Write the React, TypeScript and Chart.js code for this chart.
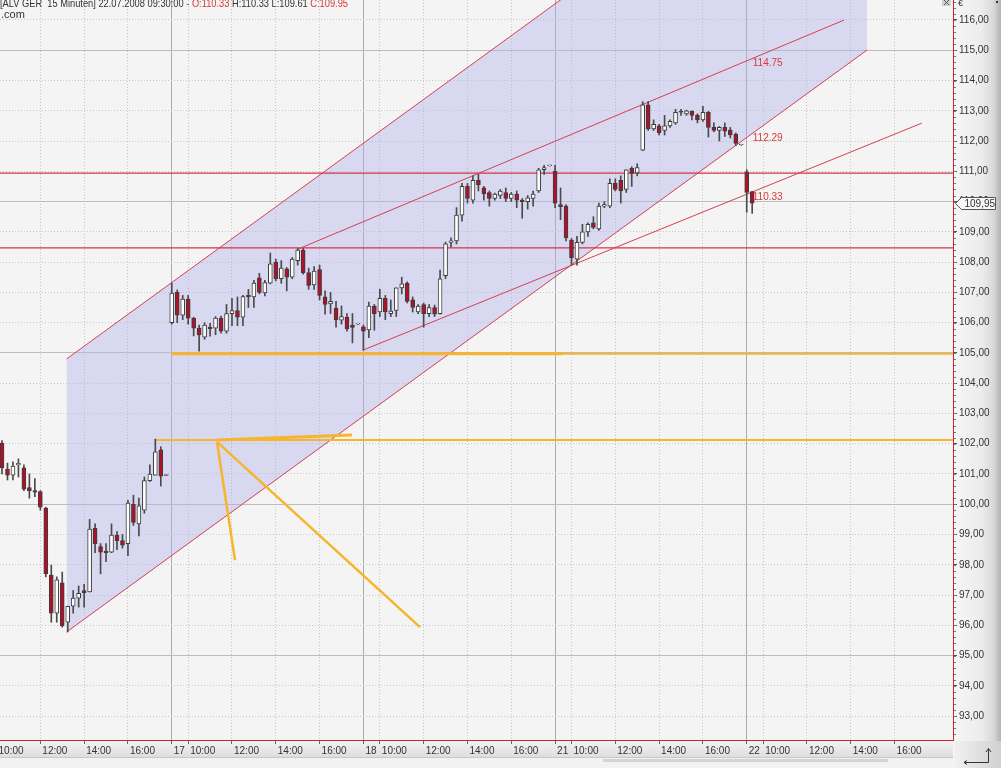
import React, { useEffect, useRef } from 'react';
import { Chart, registerables } from 'chart.js';

Chart.register(...registerables);

// ---- time axis ----
const tradingDays = ['16', '17', '18', '21', '22'];
const sessionTimes = [
  '09:15', '09:30', '09:45', '10:00', '10:15', '10:30', '10:45', '11:00', '11:15', '11:30', '11:45',
  '12:00', '12:15', '12:30', '12:45', '13:00', '13:15', '13:30', '13:45', '14:00', '14:15', '14:30',
  '14:45', '15:00', '15:15', '15:30', '15:45', '16:00', '16:15', '16:30', '16:45', '17:00', '17:15',
  '17:30', '17:45',
];
const axisTimes = ['10:00', '12:00', '14:00', '16:00'];
const categories: string[] = [];
tradingDays.forEach((d) => sessionTimes.forEach((t) => categories.push(d + ' ' + t)));
const firstBar = categories.indexOf('16 10:15');

// ---- 15 minute candles (ALV GER) ----
const opens = [
  102.02, 101.16, 100.96, 101.30, 101.20, 100.55, 100.45, 100.42, 99.87, 97.66, 96.40, 97.40, 96.10, 96.63, 96.90, 97.15, 97.10, 99.20, 98.60, 98.45, 98.42, 98.98, 98.80, 98.70, 100.00, 99.35, 99.80, 100.78, 100.96, 101.80, 100.95,
  106.00, 107.00, 106.25, 106.78, 106.15, 105.82, 105.52, 105.85, 105.82, 106.15, 105.72, 106.30, 106.40, 106.18, 106.90, 106.85, 107.48, 106.98, 107.30, 108.00, 107.45, 107.78, 107.50, 108.05, 108.40, 107.65, 107.25, 107.75, 106.85, 106.62, 106.48, 106.08, 106.18, 105.92, 105.95,
  105.86, 105.76, 106.55, 106.35, 106.80, 106.30, 106.40, 107.15, 107.30, 106.75, 106.35, 106.60, 106.30, 106.50, 106.30, 107.55, 108.65, 108.70, 109.55, 110.50, 110.05, 110.70, 110.45, 110.30, 110.10, 110.20, 110.30, 110.10, 110.25, 110.05, 110.00, 110.10, 110.35, 111.05, 111.18,
  111.00, 109.90, 109.85, 108.73, 108.10, 108.65, 109.00, 109.30, 109.10, 109.85, 109.85, 110.60, 110.70, 110.40, 111.10, 110.95, 111.70, 113.20, 112.40, 112.50, 112.35, 112.50, 112.60, 112.98, 112.90, 112.98, 112.85, 112.70, 112.95, 112.45, 112.35, 112.45, 112.36, 112.22, 111.87,
  110.98, 110.33,
];
const highs = [
  102.10, 101.36, 101.40, 101.50, 101.30, 101.00, 100.85, 100.45, 99.90, 97.99, 97.60, 97.76, 96.63, 97.15, 97.30, 97.35, 99.50, 99.35, 98.70, 98.70, 99.35, 99.10, 99.00, 100.13, 100.30, 100.20, 100.90, 101.30, 102.15, 101.90, 100.96,
  107.30, 107.08, 106.90, 106.90, 106.18, 105.92, 106.00, 105.98, 106.20, 106.22, 106.60, 106.80, 106.85, 106.90, 107.10, 107.40, 107.63, 107.40, 108.30, 108.10, 108.05, 107.82, 108.15, 108.45, 108.45, 107.80, 107.85, 107.90, 107.05, 107.00, 106.70, 106.55, 106.30, 106.30, 105.97,
  105.92, 106.68, 106.60, 107.10, 106.90, 106.75, 107.15, 107.50, 107.35, 106.85, 106.60, 106.65, 106.60, 106.58, 107.74, 108.66, 108.80, 109.80, 110.60, 110.60, 110.85, 110.90, 110.50, 110.35, 110.28, 110.40, 110.45, 110.30, 110.35, 110.10, 110.20, 110.35, 111.10, 111.20, 111.19,
  111.20, 110.45, 109.90, 108.78, 108.85, 109.25, 109.30, 109.50, 109.95, 110.00, 110.75, 110.75, 110.85, 111.05, 111.15, 111.25, 113.30, 113.30, 112.70, 112.55, 112.85, 112.70, 113.05, 113.05, 113.02, 113.00, 112.90, 113.15, 112.98, 112.60, 112.48, 112.60, 112.45, 112.27, 111.88,
  111.05, 110.33,
];
const lows = [
  101.00, 100.80, 100.80, 100.90, 100.45, 100.20, 100.25, 99.80, 97.60, 96.10, 96.10, 95.94, 95.78, 96.40, 96.60, 96.60, 97.10, 98.40, 97.70, 98.10, 98.40, 98.50, 98.55, 98.30, 99.30, 98.95, 99.70, 100.75, 100.96, 100.60, 100.94,
  105.95, 106.00, 106.10, 105.95, 105.56, 105.06, 105.45, 105.55, 105.60, 105.65, 105.65, 105.90, 105.90, 105.90, 106.50, 106.50, 106.95, 106.88, 107.28, 107.38, 107.30, 107.05, 107.45, 107.90, 107.60, 107.10, 107.10, 106.75, 106.28, 106.30, 105.85, 105.95, 105.72, 105.33, 105.94,
  105.09, 105.50, 105.75, 106.20, 106.10, 106.20, 106.20, 106.95, 106.65, 106.35, 106.30, 105.85, 106.20, 106.20, 106.28, 107.45, 108.50, 108.60, 109.35, 109.95, 109.95, 110.35, 110.05, 109.85, 110.05, 110.10, 110.00, 110.00, 109.80, 109.45, 109.75, 109.85, 110.30, 110.90, 111.17,
  109.80, 109.40, 108.70, 107.90, 107.90, 108.60, 108.85, 109.10, 109.05, 109.80, 109.80, 110.35, 109.95, 110.30, 110.50, 110.85, 111.68, 112.35, 112.35, 112.20, 112.20, 112.45, 112.55, 112.85, 112.85, 112.70, 112.60, 112.65, 112.13, 112.30, 112.00, 112.15, 112.10, 111.85, 111.86,
  109.65, 109.61,
];
const closes = [
  101.20, 100.96, 101.26, 101.35, 100.50, 100.45, 100.40, 99.90, 97.70, 96.40, 97.50, 95.98, 96.63, 96.90, 97.06, 97.08, 99.18, 98.70, 98.42, 98.40, 98.98, 98.80, 98.65, 100.04, 99.40, 99.95, 100.78, 101.00, 101.73, 100.93, 100.95,
  106.98, 106.25, 106.78, 106.15, 105.82, 105.59, 105.92, 105.80, 106.15, 105.72, 106.30, 106.40, 106.18, 106.86, 106.85, 107.31, 107.00, 107.32, 107.94, 107.45, 107.80, 107.50, 108.10, 108.40, 107.65, 107.23, 107.70, 106.90, 106.60, 106.70, 106.09, 106.20, 105.79, 105.84, 105.96,
  105.72, 106.55, 106.30, 106.80, 106.35, 106.38, 107.15, 107.28, 106.70, 106.50, 106.55, 106.30, 106.50, 106.28, 107.45, 108.60, 108.70, 109.55, 110.50, 110.10, 110.70, 110.55, 110.25, 110.10, 110.25, 110.35, 110.10, 110.25, 110.05, 110.00, 110.12, 110.25, 111.05, 111.12, 111.18,
  109.95, 109.83, 108.80, 108.15, 108.65, 109.00, 109.25, 109.15, 109.85, 109.90, 110.60, 110.40, 110.35, 111.05, 110.93, 111.12, 113.20, 112.40, 112.55, 112.28, 112.50, 112.65, 112.95, 112.95, 113.00, 112.85, 112.70, 112.95, 112.45, 112.35, 112.45, 112.33, 112.20, 111.92, 111.87,
  110.30, 109.95,
];

// ---- drawn studies (bar position, price) ----
const channelBars = [15.8, 162];
const channelLower = [95.78, 115.01];
const channelUpper = [104.8, 124.03];
const resistanceBars = [58.05, 157.8];
const resistanceValues = [108.43, 116.0];
const supportBars = [69.9, 171.95];
const supportValues = [105.09, 112.59];
const redLevels = [110.94, 108.47];
const orangeLevelStarts = [35, 31.95];
const orangeLevels = [104.97, 102.12];
const orangeBoldBars = [[35, 106.4], [43.26, 67.9]];
const orangeBoldValues = [[104.97, 104.97], [102.12, 102.29]];
const fanBars = [[43.26, 46.55], [43.26, 80.33]];
const fanValues = [[102.06, 98.15], [102.06, 95.94]];
const lineLabelTexts = ['114.75', '112.29', '110.33'];
const lineLabelBars = [141.1, 141.1, 141.1];
const lineLabelValues = [114.58, 112.1, 110.15];

// ---- view window ----
const xMin = firstBar - 0.365;
const xMax = firstBar + 173.67;
const yMin = 92.21;
const yMax = 116.66;

const fmt = (v: number) => v.toFixed(2).replace('.', ',');
const FONT = '"Liberation Sans", Arial, sans-serif';

const tickValues: number[] = [];
const tickText: Record<number, string> = {};
categories.forEach((c, k) => {
  const [day, time] = c.split(' ');
  if (time === sessionTimes[0]) {
    tickValues.push(k);
    tickText[k] = day;
  } else if (axisTimes.includes(time)) {
    tickValues.push(k);
    tickText[k] = time;
  }
});
const isDayTick = (ctx: any) =>
  ctx && ctx.tick && categories[ctx.tick.value] && categories[ctx.tick.value].endsWith(' ' + sessionTimes[0]);
const isMajorY = (ctx: any) => ctx && ctx.tick && Math.round(ctx.tick.value) % 5 === 0;

const seg = (x1: number, y1: number, x2: number, y2: number) => [
  { x: x1, y: y1 },
  { x: x2, y: y2 },
];

const decor = {
  id: 'decor',
  beforeDraw(chart: any) {
    const { ctx, chartArea: a, width, height } = chart;
    ctx.save();
    ctx.fillStyle = '#f4f4f4';
    ctx.fillRect(a.left, a.top, a.right - a.left, a.bottom - a.top);
    const g = ctx.createLinearGradient(a.right, 0, width, 0);
    g.addColorStop(0, '#f6f6f6');
    g.addColorStop(0.6, '#ececec');
    g.addColorStop(0.85, '#d8d8d8');
    g.addColorStop(1, '#b2b2b2');
    ctx.fillStyle = g;
    ctx.fillRect(a.right, 0, width - a.right, height);
    const g2 = ctx.createLinearGradient(0, a.bottom, 0, a.bottom + 17);
    g2.addColorStop(0, '#f4f4f4');
    g2.addColorStop(1, '#dedede');
    ctx.fillStyle = g2;
    ctx.fillRect(0, a.bottom, a.right, 17);
    ctx.fillStyle = '#f2f2f2';
    ctx.fillRect(0, a.bottom + 17, a.right, height - a.bottom - 17);
    ctx.strokeStyle = '#c8c8c8';
    ctx.beginPath();
    ctx.moveTo(0, a.bottom + 17.5);
    ctx.lineTo(a.right, a.bottom + 17.5);
    ctx.stroke();
    ctx.fillStyle = '#d4d4d4';
    ctx.fillRect(603, a.bottom + 19, 285, 3);
    ctx.restore();
  },
  afterDatasetsDraw(chart: any) {
    const { ctx } = chart;
    const xs = chart.scales.x;
    const ys = chart.scales.y;
    ctx.save();
    ctx.font = '10px ' + FONT;
    ctx.fillStyle = '#d23a3a';
    ctx.textBaseline = 'middle';
    lineLabelTexts.forEach((t, i) => {
      ctx.fillText(t, xs.getPixelForValue(lineLabelBars[i]), ys.getPixelForValue(lineLabelValues[i]));
    });
    ctx.restore();
  },
  afterDraw(chart: any) {
    const { ctx, chartArea: a, width, height } = chart;
    const ys = chart.scales.y;
    ctx.save();
    // minor ticks on the price axis
    ctx.fillStyle = '#777';
    for (let v = Math.ceil(yMin * 5) / 5; v <= yMax; v += 0.2) {
      const py = Math.round(ys.getPixelForValue(v));
      ctx.fillRect(a.right + 1, py, 2, 1);
    }
    // current price box
    const last = closes[closes.length - 1];
    const py = Math.round(ys.getPixelForValue(last)) + 0.5;
    const left = a.right + 2.5;
    ctx.beginPath();
    ctx.moveTo(left, py);
    ctx.lineTo(left + 6, py - 6);
    ctx.lineTo(width - 5.5, py - 6);
    ctx.lineTo(width - 5.5, py + 6);
    ctx.lineTo(left + 6, py + 6);
    ctx.closePath();
    ctx.fillStyle = '#f7f7f7';
    ctx.fill();
    ctx.strokeStyle = '#555';
    ctx.lineWidth = 1;
    ctx.stroke();
    ctx.fillStyle = '#333';
    ctx.font = '10px ' + FONT;
    ctx.textBaseline = 'middle';
    ctx.fillText(fmt(last), left + 9, py + 0.5);

    // header
    const n = opens.length - 1;
    const parts = [
      { t: '[ALV GER  15 Minuten] 22.07.2008 09:30:00 ', c: '#333' },
      { t: '- O:' + opens[n].toFixed(2) + ' ', c: '#d23a3a' },
      { t: 'H:' + highs[n].toFixed(2) + ' L:' + lows[n].toFixed(2) + ' ', c: '#333' },
      { t: 'C:' + closes[n].toFixed(2), c: '#d23a3a' },
    ];
    ctx.font = '11px ' + FONT;
    ctx.textBaseline = 'alphabetic';
    const total = parts.reduce((s, p) => s + ctx.measureText(p.t).width, 0);
    ctx.save();
    ctx.translate(0, 7);
    ctx.scale(348 / total, 1);
    let x = 0;
    parts.forEach((p) => {
      ctx.fillStyle = p.c;
      ctx.fillText(p.t, x, 0);
      x += ctx.measureText(p.t).width;
    });
    ctx.restore();
    ctx.fillStyle = '#333';
    ctx.fillText('.com', 1, 18);

    // top-right icons
    ctx.fillStyle = '#d0d0d0';
    ctx.fillRect(942, 0, 9, 6);
    ctx.strokeStyle = '#555';
    ctx.beginPath();
    ctx.moveTo(944, 0);
    ctx.lineTo(949, 5);
    ctx.moveTo(949, 0);
    ctx.lineTo(944, 5);
    ctx.stroke();
    ctx.fillStyle = '#333';
    ctx.font = '9px ' + FONT;
    ctx.fillText('€', 958, 6);
    ctx.fillRect(996, 1, 2, 2);

    // bottom-right corner
    const cg = ctx.createLinearGradient(a.right, 0, width, 0);
    cg.addColorStop(0, '#f2f2f2');
    cg.addColorStop(1, '#d0d0d0');
    ctx.fillStyle = cg;
    ctx.fillRect(a.right + 1, a.bottom + 1, width - a.right - 1, height - a.bottom - 1);
    ctx.strokeStyle = '#333';
    ctx.beginPath();
    ctx.moveTo(964, 762.5);
    ctx.lineTo(988.5, 762.5);
    ctx.lineTo(988.5, 749);
    ctx.moveTo(986, 752);
    ctx.lineTo(988.5, 748.5);
    ctx.lineTo(991, 752);
    ctx.moveTo(967, 760.5);
    ctx.lineTo(964, 762.5);
    ctx.lineTo(967, 764.5);
    ctx.stroke();
    ctx.restore();
  },
};

const lineDs = (data: any[], color: string, width: number, order = 10) => ({
  type: 'line' as const,
  data,
  borderColor: color,
  borderWidth: width,
  pointRadius: 0,
  fill: false,
  tension: 0,
  clip: 0,
  order,
});

export default function App() {
  const ref = useRef<HTMLCanvasElement>(null);
  useEffect(() => {
    document.body.style.margin = '0';
    const red = '#d6404f';
    const orange = '#f7b52c';
    const datasets: any[] = [
      lineDs(seg(channelBars[0], channelLower[0], channelBars[1], channelLower[1]), red, 1, 20),
      {
        ...lineDs(seg(channelBars[0], channelUpper[0], channelBars[1], channelUpper[1]), red, 1, 20),
        fill: '-1',
        backgroundColor: 'rgba(176,176,236,0.42)',
      },
      lineDs(seg(resistanceBars[0], resistanceValues[0], resistanceBars[1], resistanceValues[1]), red, 1),
      lineDs(seg(supportBars[0], supportValues[0], supportBars[1], supportValues[1]), red, 1),
      ...redLevels.map((v) => lineDs(seg(xMin - 1, v, xMax + 1, v), '#d43444', 1.4)),
      ...orangeLevels.map((v, i) => lineDs(seg(orangeLevelStarts[i], v, xMax + 1, v), orange, 2)),
      ...orangeBoldBars.map((b, i) =>
        lineDs(seg(b[0], orangeBoldValues[i][0], b[1], orangeBoldValues[i][1]), orange, 3)
      ),
      ...fanBars.map((b, i) => lineDs(seg(b[0], fanValues[i][0], b[1], fanValues[i][1]), orange, 2.5)),
      {
        type: 'bar',
        data: lows.map((l, i) => ({ x: firstBar + i, y: [l, highs[i]] })),
        backgroundColor: '#4a4a4a',
        borderWidth: 0,
        barThickness: 1,
        grouped: false,
        order: 2,
      },
      {
        type: 'bar',
        data: opens.map((o, i) => ({ x: firstBar + i, y: [o, closes[i]] })),
        backgroundColor: (c: any) => (closes[c.dataIndex] >= opens[c.dataIndex] ? '#ffffff' : '#b0112a'),
        borderColor: '#3c3c3c',
        borderWidth: 1,
        borderSkipped: false,
        barThickness: 4,
        minBarLength: 1,
        grouped: false,
        order: 1,
      },
    ];

    const chart = new Chart(ref.current as HTMLCanvasElement, {
      type: 'bar',
      data: { datasets },
      options: {
        responsive: false,
        maintainAspectRatio: false,
        animation: false,
        devicePixelRatio: 1,
        events: [],
        layout: { padding: 0 },
        plugins: { legend: { display: false }, tooltip: { enabled: false }, title: { display: false } },
        scales: {
          x: {
            type: 'linear',
            min: xMin,
            max: xMax,
            offset: false,
            afterBuildTicks: (s: any) => {
              s.ticks = tickValues.map((v) => ({ value: v }));
            },
            afterFit: (s: any) => {
              s.height = 28;
              s.paddingLeft = 0;
              s.paddingRight = 0;
            },
            ticks: {
              autoSkip: false,
              maxRotation: 0,
              minRotation: 0,
              align: 'start',
              labelOffset: 2,
              padding: 1,
              color: '#333',
              font: { family: FONT, size: 10 },
              callback: (v: any) => tickText[v as number] ?? '',
            },
            grid: {
              offset: false,
              color: (c: any) => (isDayTick(c) ? '#ababab' : '#c6c6c6'),
              lineWidth: 1,
              tickLength: 4,
              tickColor: '#6a6a6a',
            },
            border: {
              color: '#cc2233',
              width: 1,
              dash: (c: any) => (c && c.tick && !isDayTick(c) ? [1, 2] : []),
            },
          },
          y: {
            type: 'linear',
            position: 'right',
            min: yMin,
            max: yMax,
            beginAtZero: false,
            afterFit: (s: any) => {
              s.width = 48;
              s.paddingTop = 0;
              s.paddingBottom = 0;
            },
            ticks: {
              stepSize: 1,
              maxTicksLimit: 40,
              includeBounds: false,
              padding: 2,
              color: '#333',
              font: { family: FONT, size: 10 },
              callback: (v: any) => fmt(Number(v)),
            },
            grid: {
              color: (c: any) => (isMajorY(c) ? '#bdbdbd' : '#c8c8c8'),
              lineWidth: 1,
              tickLength: 4,
              tickColor: '#555',
            },
            border: {
              color: '#cc2233',
              width: 1,
              dash: (c: any) => (c && c.tick && !isMajorY(c) ? [1, 2] : []),
            },
          },
        },
      } as any,
      plugins: [decor],
    });
    return () => chart.destroy();
  }, []);

  return (
    <div style={{ width: 1001, height: 768 }}>
      <canvas ref={ref} width={1001} height={768} style={{ display: 'block' }} />
    </div>
  );
}
